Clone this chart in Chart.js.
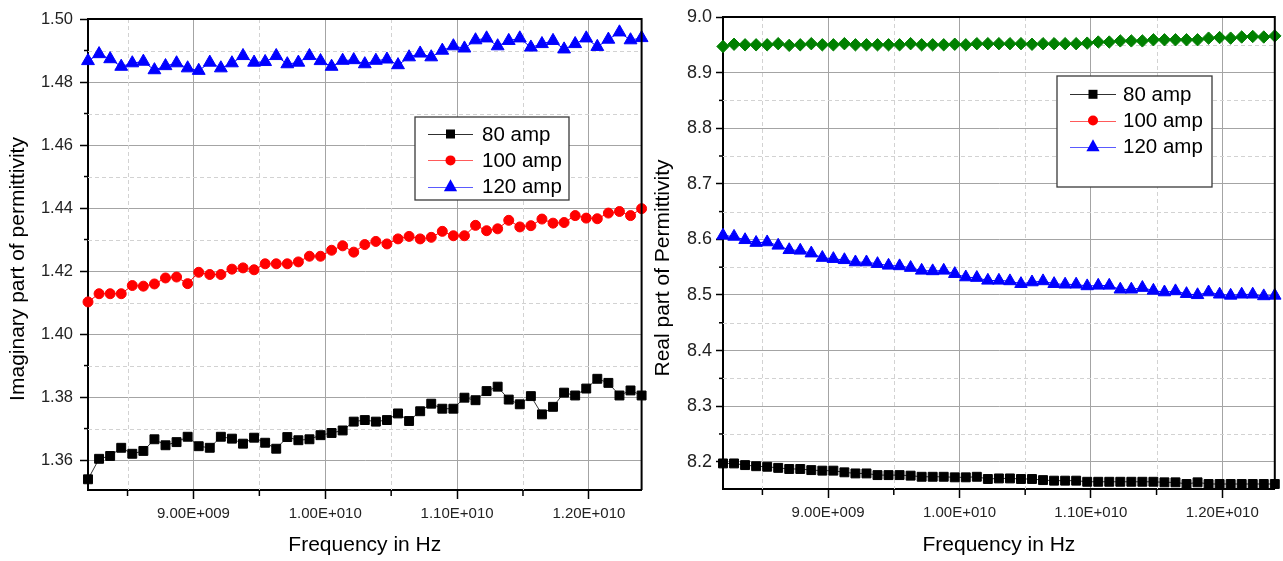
<!DOCTYPE html>
<html lang="en">
<head>
<meta charset="UTF-8">
<title>Permittivity vs Frequency</title>
<script src="https://cdn.jsdelivr.net/npm/chart.js"></script>
<style>
    html, body { margin: 0; padding: 0; background: #fff; }
    body { width: 1283px; height: 561px; position: relative; overflow: hidden; }
    .panel { position: absolute; top: 0; height: 561px; }
    #leftPanel { left: 0; width: 650px; }
    #rightPanel { left: 650px; width: 633px; }
</style>
</head>
<body>
<div class="panel" id="leftPanel"><canvas id="imagChart"></canvas></div>
<div class="panel" id="rightPanel"><canvas id="realChart"></canvas></div>

<script>
// frequency points (GHz) shared by both panels
const freqGHz = [8.200, 8.284, 8.368, 8.452, 8.536, 8.620, 8.704, 8.788, 8.872, 8.956,
                 9.040, 9.124, 9.208, 9.292, 9.376, 9.460, 9.544, 9.628, 9.712, 9.796,
                 9.880, 9.964, 10.048, 10.132, 10.216, 10.300, 10.384, 10.468, 10.552, 10.636,
                 10.720, 10.804, 10.888, 10.972, 11.056, 11.140, 11.224, 11.308, 11.392, 11.476,
                 11.560, 11.644, 11.728, 11.812, 11.896, 11.980, 12.064, 12.148, 12.232, 12.316,
                 12.400];
const xTickValues = [9, 10, 11, 12];
const xTickLabels = ['9.00E+009', '1.00E+010', '1.10E+010', '1.20E+010'];
const xMinorValues = [8.5, 9.5, 10.5, 11.5];

// left panel: imaginary part
const imagTickValues = [1.36, 1.38, 1.40, 1.42, 1.44, 1.46, 1.48, 1.50];
const imagTickLabels = ['1.36', '1.38', '1.40', '1.42', '1.44', '1.46', '1.48', '1.50'];
const imagMinorValues = [1.37, 1.39, 1.41, 1.43, 1.45, 1.47, 1.49];
const imag80 = [1.3539, 1.3604, 1.3613, 1.3639, 1.3620, 1.3629, 1.3666, 1.3647, 1.3657, 1.3674,
                1.3644, 1.3639, 1.3674, 1.3668, 1.3652, 1.3671, 1.3655, 1.3636, 1.3673, 1.3663,
                1.3666, 1.3679, 1.3686, 1.3694, 1.3722, 1.3727, 1.3722, 1.3727, 1.3748, 1.3724,
                1.3755, 1.3779, 1.3763, 1.3763, 1.3798, 1.3790, 1.3819, 1.3833, 1.3792, 1.3777,
                1.3803, 1.3745, 1.3769, 1.3814, 1.3805, 1.3827, 1.3858, 1.3845, 1.3805, 1.3821,
                1.3805];
const imag100 = [1.4102, 1.4128, 1.4128, 1.4128, 1.4154, 1.4152, 1.4159, 1.4178, 1.4181, 1.4160,
                 1.4196, 1.4189, 1.4189, 1.4206, 1.4210, 1.4204, 1.4223, 1.4223, 1.4223, 1.4229,
                 1.4247, 1.4247, 1.4266, 1.4280, 1.4260, 1.4284, 1.4294, 1.4286, 1.4302, 1.4310,
                 1.4302, 1.4307, 1.4326, 1.4312, 1.4312, 1.4345, 1.4328, 1.4334, 1.4361, 1.4340,
                 1.4344, 1.4365, 1.4352, 1.4354, 1.4376, 1.4368, 1.4366, 1.4384, 1.4389, 1.4376,
                 1.4398];
const imag120 = [1.4867, 1.4889, 1.4873, 1.4849, 1.4860, 1.4865, 1.4838, 1.4851, 1.4860, 1.4844,
                 1.4836, 1.4862, 1.4844, 1.4860, 1.4883, 1.4862, 1.4864, 1.4883, 1.4857, 1.4862,
                 1.4883, 1.4867, 1.4849, 1.4868, 1.4870, 1.4857, 1.4868, 1.4872, 1.4854, 1.4879,
                 1.4891, 1.4879, 1.4900, 1.4914, 1.4907, 1.4933, 1.4939, 1.4914, 1.4931, 1.4939,
                 1.4910, 1.4921, 1.4931, 1.4904, 1.4921, 1.4939, 1.4912, 1.4935, 1.4958, 1.4933,
                 1.4940];

// right panel: real part
const realTickValues = [8.2, 8.3, 8.4, 8.5, 8.6, 8.7, 8.8, 8.9, 9.0];
const realTickLabels = ['8.2', '8.3', '8.4', '8.5', '8.6', '8.7', '8.8', '8.9', '9.0'];
const realMinorValues = [8.25, 8.35, 8.45, 8.55, 8.65, 8.75, 8.85, 8.95];
const real80 = [8.197, 8.197, 8.194, 8.192, 8.191, 8.189, 8.187, 8.187, 8.185, 8.184,
                8.184, 8.181, 8.179, 8.179, 8.176, 8.176, 8.176, 8.175, 8.173, 8.173,
                8.173, 8.172, 8.172, 8.173, 8.169, 8.170, 8.170, 8.169, 8.169, 8.167,
                8.166, 8.166, 8.166, 8.164, 8.164, 8.164, 8.164, 8.164, 8.164, 8.164,
                8.163, 8.163, 8.160, 8.163, 8.160, 8.160, 8.160, 8.160, 8.160, 8.160,
                8.160];
const real120 = [8.607, 8.605, 8.599, 8.594, 8.595, 8.589, 8.581, 8.580, 8.575, 8.567,
                 8.565, 8.563, 8.559, 8.559, 8.556, 8.553, 8.552, 8.549, 8.544, 8.543,
                 8.544, 8.538, 8.532, 8.531, 8.526, 8.526, 8.525, 8.520, 8.523, 8.525,
                 8.520, 8.519, 8.519, 8.516, 8.517, 8.517, 8.510, 8.510, 8.513, 8.508,
                 8.505, 8.507, 8.502, 8.500, 8.505, 8.501, 8.499, 8.501, 8.501, 8.498,
                 8.499];
const realTop = [8.947, 8.951, 8.950, 8.950, 8.950, 8.952, 8.949, 8.950, 8.952, 8.950,
                 8.950, 8.952, 8.950, 8.950, 8.950, 8.950, 8.950, 8.952, 8.950, 8.950,
                 8.950, 8.951, 8.950, 8.952, 8.952, 8.952, 8.952, 8.952, 8.951, 8.952,
                 8.952, 8.952, 8.952, 8.953, 8.955, 8.955, 8.957, 8.957, 8.957, 8.959,
                 8.959, 8.959, 8.959, 8.959, 8.962, 8.963, 8.962, 8.964, 8.965, 8.964,
                 8.966];

const legendLabels = ['80 amp', '100 amp', '120 amp'];

const FONT = "'Liberation Sans', Arial, sans-serif";

function pairs(ys) {
    return freqGHz.map((f, i) => ({ x: f, y: ys[i] }));
}

function series(label, ys, color, pointStyle, radius, lineColor) {
    return {
        label: label,
        data: pairs(ys),
        showLine: true,
        borderColor: lineColor || color,
        borderWidth: 1,
        backgroundColor: color,
        pointStyle: pointStyle,
        pointRadius: radius,
        pointBackgroundColor: color,
        pointBorderColor: color,
        pointBorderWidth: 1,
        clip: false
    };
}

// small marker drawing for the legend box
function marker(ctx, style, x, y, color) {
    ctx.fillStyle = color;
    ctx.beginPath();
    if (style === 'rect') {
        ctx.rect(x - 4.5, y - 4.5, 9, 9);
    } else if (style === 'circle') {
        ctx.arc(x, y, 5, 0, Math.PI * 2);
    } else {
        ctx.moveTo(x, y - 7.5);
        ctx.lineTo(x + 6.6, y + 4.5);
        ctx.lineTo(x - 6.6, y + 4.5);
        ctx.closePath();
    }
    ctx.fill();
}

const legendStyles = [
    { line: '#303030', fill: '#000000', style: 'rect' },
    { line: '#ff5a5a', fill: '#ff0000', style: 'circle' },
    { line: '#5a5aff', fill: '#0000ff', style: 'triangle' }
];

const decor = {
    id: 'decor',
    beforeDatasetsDraw(chart, args, o) {
        const { ctx, chartArea: a, scales: { x, y } } = chart;
        ctx.save();
        // dashed minor grid
        ctx.strokeStyle = '#d2d2d2';
        ctx.lineWidth = 1;
        ctx.setLineDash([4, 3]);
        o.xMinor.forEach(v => {
            const px = Math.round(x.getPixelForValue(v)) + 0.5;
            ctx.beginPath(); ctx.moveTo(px, a.top); ctx.lineTo(px, a.bottom); ctx.stroke();
        });
        o.yMinor.forEach(v => {
            const py = Math.round(y.getPixelForValue(v)) + 0.5;
            ctx.beginPath(); ctx.moveTo(a.left, py); ctx.lineTo(a.right, py); ctx.stroke();
        });
        ctx.setLineDash([]);
        // minor ticks, outside
        ctx.strokeStyle = '#000';
        ctx.lineWidth = 1.5;
        o.xMinor.forEach(v => {
            const px = x.getPixelForValue(v);
            ctx.beginPath(); ctx.moveTo(px, a.bottom); ctx.lineTo(px, a.bottom + 6); ctx.stroke();
        });
        o.yMinor.forEach(v => {
            const py = y.getPixelForValue(v);
            ctx.beginPath(); ctx.moveTo(a.left, py); ctx.lineTo(a.left - 4, py); ctx.stroke();
        });
        ctx.restore();
    },
    afterDraw(chart, args, o) {
        const { ctx, chartArea: a } = chart;
        ctx.save();
        // top and right frame
        ctx.strokeStyle = '#000';
        ctx.lineWidth = 2;
        ctx.beginPath();
        ctx.moveTo(a.left, a.top);
        ctx.lineTo(a.right, a.top);
        ctx.lineTo(a.right, a.bottom);
        ctx.stroke();

        // y axis title
        ctx.translate(o.titleX, o.titleY);
        ctx.rotate(-Math.PI / 2);
        ctx.fillStyle = '#000';
        ctx.font = '21px ' + FONT;
        ctx.textAlign = 'center';
        ctx.textBaseline = 'middle';
        ctx.fillText(o.title, 0, 0);
        ctx.setTransform(1, 0, 0, 1, 0, 0);

        // legend box
        const L = o.legend;
        ctx.fillStyle = '#fff';
        ctx.fillRect(L.left, L.top, L.width, L.height);
        ctx.strokeStyle = '#3a3a3a';
        ctx.lineWidth = 1.3;
        ctx.strokeRect(L.left, L.top, L.width, L.height);
        ctx.font = '20.5px ' + FONT;
        ctx.textAlign = 'left';
        ctx.textBaseline = 'middle';
        legendLabels.forEach((txt, i) => {
            const ry = L.row + i * L.gap;
            const st = legendStyles[i];
            ctx.strokeStyle = st.line;
            ctx.lineWidth = 1;
            ctx.beginPath();
            ctx.moveTo(L.lineFrom, Math.round(ry) + 0.5);
            ctx.lineTo(L.lineTo, Math.round(ry) + 0.5);
            ctx.stroke();
            marker(ctx, st.style, (L.lineFrom + L.lineTo) / 2, ry, st.fill);
            ctx.fillStyle = '#000';
            ctx.fillText(txt, L.textX, ry + 1);
        });
        ctx.restore();
    }
};

function buildChart(canvasId, cfg) {
    return new Chart(document.getElementById(canvasId), {
        type: 'scatter',
        data: { datasets: cfg.datasets },
        plugins: [decor],
        options: {
            responsive: true,
            maintainAspectRatio: false,
            animation: false,
            events: [],
            layout: { padding: cfg.padding },
            plugins: {
                legend: { display: false },
                tooltip: { enabled: false },
                decor: cfg.decor
            },
            scales: {
                x: {
                    type: 'linear',
                    min: 8.2,
                    max: 12.4,
                    afterBuildTicks: s => { s.ticks = xTickValues.map(v => ({ value: v })); },
                    afterFit: s => { s.height = cfg.xHeight; },
                    ticks: {
                        autoSkip: false,
                        maxRotation: 0,
                        padding: 6,
                        color: '#222',
                        font: { family: FONT, size: 15 },
                        callback: (v, i) => xTickLabels[i]
                    },
                    grid: { color: '#a4a4a4', lineWidth: 1, tickColor: '#000', tickWidth: 1.5, tickLength: 9 },
                    border: { color: '#000', width: 2 },
                    title: {
                        display: true,
                        text: 'Frequency in Hz',
                        color: '#000',
                        font: { family: FONT, size: 21 },
                        padding: { top: 0, bottom: 3 }
                    }
                },
                y: {
                    type: 'linear',
                    min: cfg.yMin,
                    max: cfg.yMax,
                    afterBuildTicks: s => { s.ticks = cfg.yTicks.map(v => ({ value: v })); },
                    afterFit: s => { s.width = cfg.yWidth; },
                    ticks: {
                        autoSkip: false,
                        padding: cfg.yPad,
                        color: '#222',
                        font: { family: FONT, size: cfg.yFont },
                        callback: (v, i) => cfg.yLabels[i]
                    },
                    grid: { color: '#a4a4a4', lineWidth: 1, tickColor: '#000', tickWidth: 1.5, tickLength: cfg.yTick },
                    border: { color: '#000', width: 2 }
                }
            }
        }
    });
}

buildChart('imagChart', {
    datasets: [
        series('80 amp', imag80, '#000000', 'rect', 6.3, '#333333'),
        series('100 amp', imag100, '#ff0000', 'circle', 5.0),
        series('120 amp', imag120, '#0000ff', 'triangle', 7.4)
    ],
    padding: { left: 0, top: 19, right: 5, bottom: 0 },
    xHeight: 71,
    yWidth: 88,
    yMin: 1.3505,
    yMax: 1.50,
    yTicks: imagTickValues,
    yLabels: imagTickLabels,
    yPad: 7,
    yTick: 8,
    yFont: 16.5,
    decor: {
        xMinor: xMinorValues,
        yMinor: imagMinorValues,
        title: 'Imaginary part of permittivity',
        titleX: 18.5,
        titleY: 269,
        legend: { left: 415, top: 117, width: 154, height: 83, row: 134, gap: 26.4, lineFrom: 428, lineTo: 473, textX: 482 }
    }
});

buildChart('realChart', {
    datasets: [
        series('80 amp', real80, '#000000', 'rect', 6.3, '#333333'),
        series('120 amp', real120, '#0000ff', 'triangle', 7.2),
        series('', realTop, '#008000', 'rectRot', 6.2)
    ],
    padding: { left: 0, top: 17, right: 1, bottom: 0 },
    xHeight: 72,
    yWidth: 73,
    yMin: 8.151,
    yMax: 9.0,
    yTicks: realTickValues,
    yLabels: realTickLabels,
    yPad: 4,
    yTick: 7,
    yFont: 18,
    decor: {
        xMinor: xMinorValues,
        yMinor: realMinorValues,
        title: 'Real part of Permittivity',
        titleX: 13,
        titleY: 268,
        legend: { left: 407, top: 76, width: 155, height: 111, row: 94.3, gap: 26.2, lineFrom: 420, lineTo: 466, textX: 473 }
    }
});
</script>
</body>
</html>
